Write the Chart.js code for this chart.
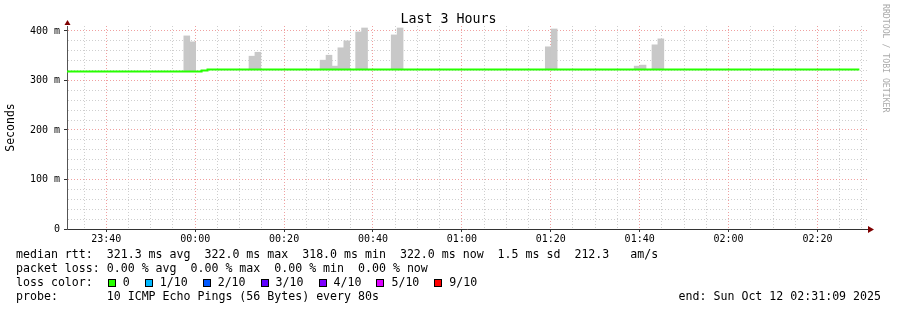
<!DOCTYPE html>
<html lang="en">
<head>
<meta charset="UTF-8">
<title>Last 3 Hours</title>
<script src="https://cdn.jsdelivr.net/npm/chart.js"></script>
<style>
  body { margin: 0; background: #fff; }
  #wrap { position: relative; width: 897px; height: 310px; font-family: "DejaVu Sans Mono", monospace; color: #000; overflow: hidden; }
  #grafico { position: absolute; left: 0; top: 0; }
  #titulo { position: absolute; left: 0; top: 11px; width: 897px; text-align: center; font-size: 13.3px; line-height: 16px; }
  #marca { position: absolute; left: 881px; top: 4px; writing-mode: vertical-rl; font-size: 8.2px; color: #aaa; white-space: pre; }
  .fila { position: absolute; left: 16px; white-space: pre; font-size: 11.6px; line-height: 14px; }
  #fin { left: auto; right: 16px; }
  .caja { display: inline-block; width: 6px; height: 6px; border: 1px solid #000; margin-left: 1px; margin-right: 7px; vertical-align: -1px; }
  .item { margin-right: 14px; }
</style>
</head>
<body>
<div id="wrap">
  <canvas id="grafico" width="897" height="310"></canvas>
  <div id="titulo">Last 3 Hours</div>
  <div id="marca">RRDTOOL / TOBI OETIKER</div>
  <div class="fila" style="top:247px">median rtt:  321.3 ms avg  322.0 ms max  318.0 ms min  322.0 ms now  1.5 ms sd  212.3   am/s</div>
  <div class="fila" style="top:261px">packet loss: 0.00 % avg  0.00 % max  0.00 % min  0.00 % now</div>
  <div class="fila" id="perdidas" style="top:275px">loss color:  </div>
  <div class="fila" style="top:289px">probe:       10 ICMP Echo Pings (56 Bytes) every 80s</div>
  <div class="fila" id="fin" style="top:289px">end: Sun Oct 12 02:31:09 2025</div>
</div>

<script>
  // ventana de tiempo (3 horas)
  const inicio = '23:31:09';
  const fin = '02:31:09';
  const pasoSeg = 80;

  // mediana (ms), escalonada: cada valor vale desde su hora hasta la siguiente
  const medianaHoras = ['23:31:09', '00:01:26', '00:02:46', '02:29:26'];
  const medianaMs = [318, 320, 322, 322];

  // humo: inicio de cada paso de 80 s, minimo y maximo (ms)
  const humoHoras = ['23:57:26', '23:58:46', '00:12:06', '00:13:26', '00:28:06', '00:29:26', '00:30:46',
    '00:32:06', '00:33:26', '00:36:06', '00:37:26', '00:44:06', '00:45:26', '01:18:46', '01:20:06',
    '01:38:46', '01:40:06', '01:42:46', '01:44:06'];
  const humoMin = [318, 318, 322, 322, 322, 322, 322, 322, 322, 322, 322, 322, 322, 322, 322, 322, 322, 322, 322];
  const humoMax = [390, 378, 349, 357, 341, 351, 329, 366, 380, 398, 406, 392, 406, 368, 404, 329, 331, 372, 384];

  // leyenda de perdidas
  const perdidaEtiquetas = ['0', '1/10', '2/10', '3/10', '4/10', '5/10', '9/10'];
  const perdidaColores = ['#26ff00', '#00b8ff', '#0059ff', '#5e00ff', '#7e00ff', '#dd00ff', '#ff0000'];

  const yMax = 410;

  function aMinutos(h) {
    const [hh, mm, ss] = h.split(':').map(Number);
    let m = hh * 60 + mm + ss / 60;
    if (hh >= 12) m -= 1440;
    return m;
  }

  function etiquetaHora(v) {
    let m = Math.round(v);
    if (m < 0) m += 1440;
    return String(Math.floor(m / 60)).padStart(2, '0') + ':' + String(m % 60).padStart(2, '0');
  }

  const leyenda = document.getElementById('perdidas');
  perdidaEtiquetas.forEach((t, i) => {
    const s = document.createElement('span');
    s.className = 'item';
    s.innerHTML = '<span class="caja" style="background:' + perdidaColores[i] + '"></span>' + t;
    leyenda.appendChild(s);
  });

  const xMin = aMinutos(inicio);
  const xMax = aMinutos(fin);
  const medio = pasoSeg / 120;

  const flechas = {
    id: 'flechas',
    afterDraw(chart) {
      const { ctx, chartArea: a } = chart;
      ctx.save();
      ctx.strokeStyle = '#333';
      ctx.lineWidth = 1;
      ctx.beginPath();
      ctx.moveTo(a.right, a.bottom + 0.5);
      ctx.lineTo(a.right + 3, a.bottom + 0.5);
      ctx.stroke();
      ctx.fillStyle = '#7f0000';
      ctx.beginPath();
      ctx.moveTo(a.right + 1, a.bottom - 3);
      ctx.lineTo(a.right + 7, a.bottom + 0.5);
      ctx.lineTo(a.right + 1, a.bottom + 4);
      ctx.fill();
      ctx.beginPath();
      ctx.moveTo(a.left - 2.5, a.top - 1);
      ctx.lineTo(a.left + 0.5, a.top - 6);
      ctx.lineTo(a.left + 3.5, a.top - 1);
      ctx.fill();
      ctx.restore();
    }
  };

  Chart.defaults.font.family = '"DejaVu Sans Mono", monospace';
  Chart.defaults.color = '#000';

  new Chart(document.getElementById('grafico').getContext('2d'), {
    type: 'bar',
    data: {
      datasets: [
        {
          type: 'line',
          label: 'median rtt',
          data: medianaHoras.map((h, i) => ({ x: aMinutos(h), y: medianaMs[i] })),
          borderColor: '#26ff00',
          borderWidth: 2,
          stepped: true,
          pointRadius: 0,
          fill: false,
          order: 0
        },
        {
          label: 'smoke',
          data: humoHoras.map((h, i) => ({ x: aMinutos(h) + medio, y: [humoMin[i], humoMax[i]] })),
          backgroundColor: '#c8c8c8',
          borderWidth: 0,
          barPercentage: 1,
          categoryPercentage: 1,
          order: 1
        }
      ]
    },
    options: {
      responsive: false,
      animation: false,
      layout: { padding: { top: 26, right: 30, bottom: 61, left: 0 } },
      plugins: { legend: { display: false }, tooltip: { enabled: false }, title: { display: false } },
      scales: {
        x: {
          type: 'linear',
          min: xMin,
          max: xMax,
          offset: false,
          afterBuildTicks: s => {
            const t = [];
            for (let v = Math.ceil(xMin / 5) * 5; v <= xMax; v += 5) t.push({ value: v });
            s.ticks = t;
          },
          afterFit: s => { s.height = 20; },
          ticks: {
            autoSkip: false,
            maxRotation: 0,
            padding: 1,
            font: { size: 10 },
            callback: v => (v % 20 === 0 ? etiquetaHora(v) : '')
          },
          grid: {
            offset: false,
            color: c => (c.tick && c.tick.value % 20 === 0 ? '#f0a0a0' : '#cfcfcf'),
            tickColor: c => (c.tick && c.tick.value % 20 === 0 ? '#333' : 'rgba(0,0,0,0)'),
            tickLength: 3,
            tickBorderDash: []
          },
          border: { color: '#333', dash: [1, 2] }
        },
        y: {
          min: 0,
          max: yMax,
          afterBuildTicks: s => {
            const t = [];
            for (let v = 0; v <= 400; v += 20) t.push({ value: v });
            s.ticks = t;
          },
          afterFit: s => { s.width = 67; },
          ticks: {
            autoSkip: false,
            padding: 4,
            font: { size: 10 },
            callback: v => (v % 100 === 0 ? (v === 0 ? '0' : v + ' m') : '')
          },
          grid: {
            color: c => (c.tick && c.tick.value % 100 === 0 ? '#f0a0a0' : '#cfcfcf'),
            tickColor: c => (c.tick && c.tick.value % 100 === 0 ? '#333' : 'rgba(0,0,0,0)'),
            tickLength: 3,
            tickBorderDash: []
          },
          border: { color: '#555', dash: [1, 2] },
          title: { display: true, text: 'Seconds', font: { size: 11.5 }, padding: { top: 4, bottom: 0 } }
        }
      }
    },
    plugins: [flechas]
  });
</script>
</body>
</html>
